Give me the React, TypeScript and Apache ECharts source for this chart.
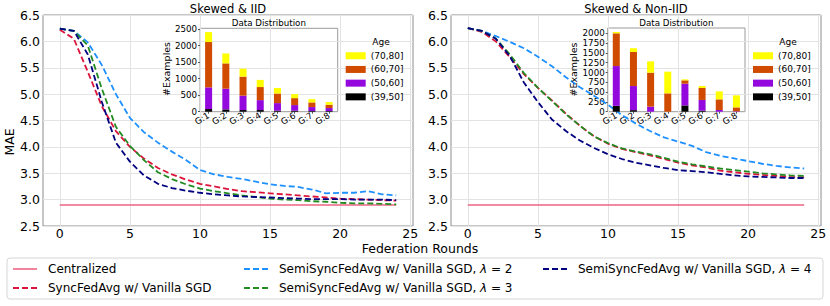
import React, { useEffect, useRef } from 'react';
import * as echarts from 'echarts';

const F = '"DejaVu Sans", sans-serif';

// Main charts: federation rounds
const rounds = [0, 1, 2, 3, 4, 5, 6, 7, 8, 9, 10, 11, 12, 13, 14, 15, 16, 17, 18, 19, 20, 21, 22, 23, 24];
const xTicks = [0, 5, 10, 15, 20, 25];

const seriesNames = [
  'Centralized',
  'SyncFedAvg w/ Vanilla SGD',
  'SemiSyncFedAvg w/ Vanilla SGD, λ = 2',
  'SemiSyncFedAvg w/ Vanilla SGD, λ = 3',
  'SemiSyncFedAvg w/ Vanilla SGD, λ = 4',
];

// Skewed & IID
const centralizedIID = [2.9, 2.9, 2.9, 2.9, 2.9, 2.9, 2.9, 2.9, 2.9, 2.9, 2.9, 2.9, 2.9, 2.9, 2.9, 2.9, 2.9, 2.9, 2.9, 2.9, 2.9, 2.9, 2.9, 2.9, 2.9];
const syncIID = [6.22, 6.05, 5.42, 4.77, 4.3, 4.0, 3.78, 3.6, 3.48, 3.38, 3.3, 3.25, 3.2, 3.16, 3.14, 3.12, 3.1, 3.08, 3.06, 3.04, 3.02, 3.01, 3.0, 2.99, 2.98];
const lam2IID = [6.24, 6.2, 5.98, 5.55, 5.0, 4.55, 4.28, 4.08, 3.91, 3.75, 3.56, 3.48, 3.43, 3.39, 3.34, 3.29, 3.26, 3.24, 3.19, 3.12, 3.13, 3.13, 3.16, 3.1, 3.08];
const lam3IID = [6.24, 6.2, 5.92, 5.1, 4.38, 4.02, 3.75, 3.52, 3.39, 3.29, 3.21, 3.16, 3.12, 3.08, 3.05, 3.02, 3.0, 2.99, 2.97, 2.96, 2.94, 2.93, 2.93, 2.92, 2.91];
const lam4IID = [6.24, 6.2, 5.75, 4.85, 4.08, 3.72, 3.46, 3.3, 3.22, 3.17, 3.13, 3.1, 3.08, 3.06, 3.05, 3.04, 3.03, 3.02, 3.01, 3.01, 3.01, 3.0, 3.0, 3.0, 2.99];

// Skewed & Non-IID
const centralizedNon = [2.9, 2.9, 2.9, 2.9, 2.9, 2.9, 2.9, 2.9, 2.9, 2.9, 2.9, 2.9, 2.9, 2.9, 2.9, 2.9, 2.9, 2.9, 2.9, 2.9, 2.9, 2.9, 2.9, 2.9, 2.9];
const syncNon = [6.25, 6.18, 6.0, 5.7, 5.38, 5.12, 4.88, 4.63, 4.4, 4.2, 4.06, 3.96, 3.9, 3.84, 3.77, 3.7, 3.65, 3.61, 3.55, 3.52, 3.49, 3.47, 3.45, 3.43, 3.42];
const lam2Non = [6.25, 6.2, 6.1, 5.99, 5.87, 5.71, 5.53, 5.32, 5.13, 4.97, 4.8, 4.6, 4.44, 4.3, 4.18, 4.1, 4.02, 3.9, 3.83, 3.78, 3.73, 3.68, 3.64, 3.61, 3.59];
const lam3Non = [6.25, 6.2, 6.05, 5.75, 5.4, 5.12, 4.87, 4.62, 4.4, 4.2, 4.07, 3.97, 3.91, 3.86, 3.79, 3.72, 3.67, 3.63, 3.59, 3.56, 3.53, 3.5, 3.48, 3.46, 3.45];
const lam4Non = [6.25, 6.2, 6.05, 5.72, 5.22, 4.85, 4.52, 4.3, 4.12, 3.98, 3.86, 3.77, 3.7, 3.65, 3.6, 3.56, 3.54, 3.52, 3.49, 3.46, 3.44, 3.43, 3.42, 3.41, 3.41];

// Inset: data distribution
const groups = ['G:1', 'G:2', 'G:3', 'G:4', 'G:5', 'G:6', 'G:7', 'G:8'];
const ageBins = ['(39,50]', '(50,60]', '(60,70]', '(70,80]'];
const iidBlack = [80, 70, 50, 50, 30, 30, 20, 20];
const iidPurple = [655, 625, 435, 300, 230, 170, 120, 90];
const iidOrange = [1370, 765, 575, 395, 290, 210, 140, 100];
const iidYellow = [300, 300, 240, 215, 165, 120, 100, 80];
const nonBlack = [150, 40, 0, 0, 160, 25, 0, 0];
const nonPurple = [1015, 615, 128, 0, 555, 275, 43, 10];
const nonOrange = [835, 870, 868, 468, 85, 305, 272, 100];
const nonYellow = [34, 95, 289, 553, 25, 50, 204, 307];
const iidTicks = [0, 500, 1000, 1500, 2000, 2500];
const nonTicks = [0, 250, 500, 750, 1000, 1250, 1500, 1750, 2000];

const lineColors = ['#ee6484', '#dc143c', '#1e90ff', '#228b22', '#000080'];
const barColors = ['#000000', '#9309dd', '#d04b00', '#ffff00'];

const SOLID_ICON = 'path://M0,0h24v1.6h-24z';
const DASH_ICON = 'path://M0,0h6v1.8h-6z M9,0h6v1.8h-6z M18,0h6v1.8h-6z';

function buildOption() {
  const frame = '#8c8c8c';
  const gridLine = '#e3e3e3';

  const mainX = (gridIndex: number) => ({
    type: 'value',
    gridIndex,
    min: -1.2,
    max: 25.2,
    axisLine: { show: false },
    axisTick: { show: false, customValues: xTicks },
    axisLabel: { customValues: xTicks, fontFamily: F, fontSize: 12.5, color: '#000', margin: 1 },
    splitLine: { show: true, lineStyle: { color: gridLine, width: 1 } },
  });
  const mainY = (gridIndex: number) => ({
    type: 'value',
    gridIndex,
    min: 2.5,
    max: 6.5,
    interval: 0.5,
    axisLine: { show: false },
    axisTick: { show: false },
    axisLabel: { fontFamily: F, fontSize: 12.5, color: '#000', margin: 3, formatter: (v: number) => v.toFixed(1) },
    splitLine: { show: true, lineStyle: { color: gridLine, width: 1 } },
  });
  const insetX = (gridIndex: number) => ({
    type: 'category',
    gridIndex,
    data: groups,
    axisLine: { show: false },
    axisTick: { show: true, alignWithLabel: true, length: 2, lineStyle: { color: '#555' } },
    axisLabel: { interval: 0, rotate: 30, fontFamily: F, fontSize: 8.7, color: '#000', margin: 3 },
    splitLine: { show: false },
  });
  const insetY = (gridIndex: number, max: number, ticks: number[]) => ({
    type: 'value',
    gridIndex,
    min: 0,
    max,
    axisLine: { show: false },
    axisTick: { show: true, length: 2, customValues: ticks, lineStyle: { color: '#555' } },
    axisLabel: {
      customValues: ticks,
      fontFamily: F,
      fontSize: 8.7,
      color: '#000',
      margin: 3,
      formatter: (v: number) => String(v),
    },
    splitLine: { show: false },
  });

  const lineSets = [
    [centralizedIID, syncIID, lam2IID, lam3IID, lam4IID],
    [centralizedNon, syncNon, lam2Non, lam3Non, lam4Non],
  ];
  const series: any[] = [];
  lineSets.forEach((set, gi) => {
    set.forEach((vals, si) => {
      series.push({
        type: 'line',
        name: seriesNames[si],
        xAxisIndex: gi,
        yAxisIndex: gi,
        data: rounds.map((r, i) => [r, vals[i]]),
        symbol: 'none',
        showSymbol: false,
        z: 3,
        itemStyle: { color: lineColors[si] },
        lineStyle: {
          color: lineColors[si],
          width: si === 0 ? 1.5 : 1.8,
          type: si === 0 ? 'solid' : [6, 3],
        },
      });
    });
  });
  const barSets = [
    [iidBlack, iidPurple, iidOrange, iidYellow],
    [nonBlack, nonPurple, nonOrange, nonYellow],
  ];
  barSets.forEach((set, k) => {
    set.forEach((vals, bi) => {
      series.push({
        type: 'bar',
        name: ageBins[bi],
        xAxisIndex: 2 + k,
        yAxisIndex: 2 + k,
        stack: 'inset' + k,
        data: vals,
        barWidth: 7,
        itemStyle: { color: barColors[bi] },
        z: 4,
      });
    });
  });

  const legendFormatter = (name: string) => {
    const i = name.indexOf('λ');
    if (i < 0) return `{n|${name}}`;
    return `{n|${name.slice(0, i)}}{i|λ}{n|${name.slice(i + 1)}}`;
  };
  const mainLegend = (idx: number, left: number, top: number) => ({
    data: [{ name: seriesNames[idx], icon: idx === 0 ? SOLID_ICON : DASH_ICON }],
    left,
    top,
    padding: 0,
    itemWidth: 24,
    itemHeight: 2,
    itemGap: 0,
    selectedMode: false,
    itemStyle: { color: lineColors[idx], borderWidth: 0 },
    lineStyle: { width: 0, opacity: 0 },
    formatter: legendFormatter,
    textStyle: {
      fontFamily: F,
      fontSize: 12,
      color: '#000',
      lineHeight: 14,
      padding: [0, 0, 0, 6],
      rich: {
        n: { fontFamily: F, fontSize: 12, color: '#000', lineHeight: 14 },
        i: { fontFamily: F, fontSize: 12, color: '#000', lineHeight: 14, fontStyle: 'italic' },
      },
    },
  });
  const insetLegend = (left: number) => ({
    data: ['(70,80]', '(60,70]', '(50,60]', '(39,50]'],
    orient: 'vertical',
    left,
    top: 48.9,
    padding: 0,
    icon: 'rect',
    itemWidth: 20,
    itemHeight: 7,
    itemGap: 0,
    selectedMode: false,
    textStyle: { fontFamily: F, fontSize: 9, color: '#000', lineHeight: 13.7 },
  });

  const txt = (text: string, x: number, y: number, size: number, rotation = 0) => ({
    type: 'text',
    x,
    y,
    rotation,
    z: 10,
    style: {
      text,
      fill: '#000',
      font: `${size}px "DejaVu Sans", sans-serif`,
      align: 'center',
      verticalAlign: 'middle',
    },
  });

  return {
    animation: false,
    backgroundColor: '#fff',
    grid: [
      { left: 43, top: 15, width: 370, height: 211, show: true, borderColor: frame, borderWidth: 1, backgroundColor: 'transparent' },
      { left: 451, top: 15, width: 370, height: 211, show: true, borderColor: frame, borderWidth: 1, backgroundColor: 'transparent' },
      { left: 200, top: 28.3, width: 137.7, height: 83.4, show: true, borderColor: '#9a9a9a', borderWidth: 1, backgroundColor: 'transparent' },
      { left: 607.7, top: 28, width: 137.3, height: 83.7, show: true, borderColor: '#9a9a9a', borderWidth: 1, backgroundColor: 'transparent' },
    ],
    xAxis: [mainX(0), mainX(1), insetX(2), insetX(3)],
    yAxis: [mainY(0), mainY(1), insetY(2, 2520, iidTicks), insetY(3, 2136, nonTicks)],
    legend: [
      mainLegend(0, 13, 262),
      mainLegend(1, 13, 281),
      mainLegend(2, 244, 262),
      mainLegend(3, 244, 281),
      mainLegend(4, 543, 262),
      insetLegend(345.7),
      insetLegend(753),
    ],
    graphic: [
      {
        type: 'rect',
        z: 0,
        shape: { x: 7, y: 258, width: 816, height: 41, r: 3 },
        style: { fill: '#fff', stroke: '#d6d6d6', lineWidth: 1 },
      },
      txt('Skewed & IID', 228, 8.5, 11.5),
      txt('Skewed & Non-IID', 636, 8.5, 11.5),
      txt('Data Distribution', 268.8, 22.7, 8.7),
      txt('Data Distribution', 676.3, 22.7, 8.7),
      txt('Age', 381, 42, 9),
      txt('Age', 788, 42.3, 9),
      txt('#Examples', 166.5, 69, 9.5, Math.PI / 2),
      txt('#Examples', 573.3, 69.5, 9.5, Math.PI / 2),
      txt('Federation Rounds', 420, 248.5, 12.5),
      txt('MAE', 9, 142, 12.5, Math.PI / 2),
    ],
    series,
  };
}

export default function App() {
  const ref = useRef<HTMLDivElement>(null);
  useEffect(() => {
    document.body.style.margin = '0';
    const chart = echarts.init(ref.current!, null, { renderer: 'svg' });
    chart.setOption(buildOption() as any);
    return () => chart.dispose();
  }, []);
  return <div ref={ref} style={{ width: 830, height: 306 }} />;
}
